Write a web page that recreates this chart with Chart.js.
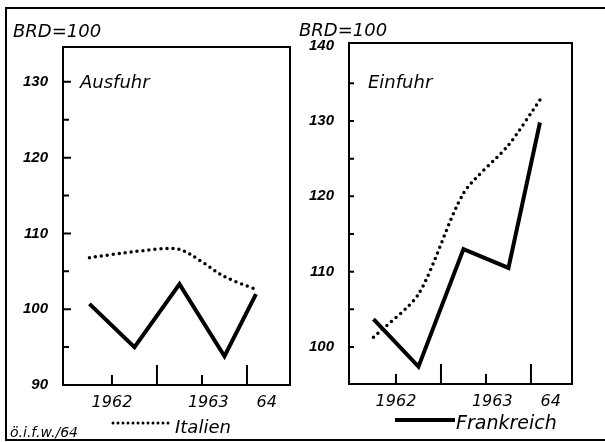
<!DOCTYPE html>
<html lang="de">
<head>
    <meta charset="UTF-8">
    <title>Ausfuhr / Einfuhr, BRD=100</title>
    <script src="https://cdn.jsdelivr.net/npm/chart.js@4"></script>
    <style>
        body {
            margin: 0;
            background: #fff;
        }
        #page {
            position: relative;
            width: 605px;
            height: 442px;
            overflow: hidden;
            background: #fff;
            color: #000;
            font-family: "DejaVu Sans", sans-serif;
            font-style: italic;
        }
        #page canvas {
            position: absolute;
            left: 0;
            top: 0;
        }
        .frame {
            position: absolute;
            left: 5px;
            top: 7px;
            width: 700px;
            height: 434px;
            box-sizing: border-box;
            border: 2px solid #000;
            border-right: none;
        }
        .txt {
            position: absolute;
            line-height: 1;
            white-space: nowrap;
        }
        .solid-key {
            position: absolute;
            left: 395px;
            top: 418px;
            width: 60px;
            height: 4px;
            background: #000;
        }
    </style>
</head>
<body>
<div id="page">
    <div class="frame"></div>
    <canvas id="ausfuhr" width="605" height="442"></canvas>
    <canvas id="einfuhr" width="605" height="442"></canvas>

    <span class="txt" style="left:13px; top:22px; font-size:18px;">BRD=100</span>
    <span class="txt" style="left:299px; top:21px; font-size:18px;">BRD=100</span>
    <span class="txt" style="left:80px; top:73px; font-size:18px;">Ausfuhr</span>
    <span class="txt" style="left:368px; top:73px; font-size:18px;">Einfuhr</span>

    <svg style="position:absolute; left:110px; top:419px;" width="66" height="8">
        <line x1="3" y1="4" x2="63" y2="4" stroke="#000" stroke-width="3"
              stroke-dasharray="0 5" stroke-linecap="round"/>
    </svg>
    <span class="txt" style="left:175px; top:418px; font-size:18px;">Italien</span>
    <div class="solid-key"></div>
    <span class="txt" style="left:456px; top:413px; font-size:19px;">Frankreich</span>
    <span class="txt" style="left:10px; top:425px; font-size:14px;">ö.i.f.w./64</span>
</div>

<script>
    // half-year midpoints 1962/63, then 1st quarter 1964
    const periods = [1962.25, 1962.75, 1963.25, 1963.75, 1964.1];

    const ausfuhrFrankreich = [100.7, 95.0, 103.3, 93.8, 102.0];
    const ausfuhrItalien = [106.8, 107.6, 107.9, 104.3, 102.6];
    const einfuhrFrankreich = [103.7, 97.4, 113.0, 110.5, 129.8];
    const einfuhrItalien = [101.3, 107.0, 120.4, 126.8, 132.8];

    const xLabels = ['1962', '1963', '64'];
    const xLabelPos = [1962.5, 1963.57, 1964.22];
    const xTickMarks = [1962.5, 1963, 1963.5, 1964];

    const ausfuhrYLabels = [90, 100, 110, 120, 130];
    const einfuhrYLabels = [100, 110, 120, 130, 140];
    const yTickMarks = [95, 100, 105, 110, 115, 120, 125, 130, 135];

    // box around the plot area plus the inward tick marks
    const frameTicks = {
        id: 'frameTicks',
        afterDraw(chart, args, opts) {
            const { ctx, chartArea: a, scales: { x, y } } = chart;
            ctx.save();
            ctx.strokeStyle = '#000';
            ctx.lineWidth = 2;
            ctx.strokeRect(a.left, a.top, a.right - a.left, a.bottom - a.top);
            ctx.beginPath();
            yTickMarks.forEach(v => {
                if (v <= y.min || v >= y.max - 1) return;
                const py = y.getPixelForValue(v);
                const len = v % 10 === 0 ? opts.majorLen : opts.minorLen;
                ctx.moveTo(a.left, py);
                ctx.lineTo(a.left + len, py);
            });
            xTickMarks.forEach(v => {
                const px = x.getPixelForValue(v);
                const len = Number.isInteger(v) ? 20 : 10;
                ctx.moveTo(px, a.bottom);
                ctx.lineTo(px, a.bottom - len);
            });
            ctx.stroke();
            ctx.restore();
        }
    };

    const toPoints = vals => periods.map((t, i) => ({ x: t, y: vals[i] }));

    const makeChart = (id, cfg) => new Chart(document.getElementById(id), {
        type: 'line',
        data: {
            datasets: [
                {
                    label: 'Frankreich',
                    data: toPoints(cfg.frankreich),
                    borderColor: '#000',
                    borderWidth: 4,
                    pointRadius: 0,
                    tension: 0
                },
                {
                    label: 'Italien',
                    data: toPoints(cfg.italien),
                    borderColor: '#000',
                    borderWidth: 3.5,
                    borderDash: [0, 6],
                    borderCapStyle: 'round',
                    pointRadius: 0,
                    tension: 0.25
                }
            ]
        },
        options: {
            responsive: false,
            animation: false,
            devicePixelRatio: 1,
            layout: { padding: cfg.padding },
            plugins: {
                legend: { display: false },
                tooltip: { enabled: false },
                frameTicks: { majorLen: cfg.majorLen, minorLen: cfg.minorLen }
            },
            scales: {
                x: {
                    type: 'linear',
                    min: cfg.xMin,
                    max: cfg.xMax,
                    grid: { display: false, drawTicks: false },
                    border: { display: false },
                    afterBuildTicks: s => { s.ticks = xLabelPos.map(v => ({ value: v })); },
                    afterFit: s => { s.height = 30; },
                    ticks: {
                        autoSkip: false,
                        maxRotation: 0,
                        padding: 8,
                        color: '#000',
                        font: { family: 'DejaVu Sans', size: 16, style: 'italic' },
                        callback: (v, i) => xLabels[i]
                    }
                },
                y: {
                    min: cfg.yMin,
                    max: cfg.yMax,
                    grid: { display: false, drawTicks: false },
                    border: { display: false },
                    afterBuildTicks: s => { s.ticks = cfg.yLabels.map(v => ({ value: v })); },
                    afterFit: s => { s.width = 50; },
                    ticks: {
                        padding: 15,
                        color: '#000',
                        font: { family: 'Liberation Sans', size: 15, style: 'italic', weight: 'bold' },
                        callback: v => v
                    }
                }
            }
        },
        plugins: [frameTicks]
    });

    makeChart('ausfuhr', {
        frankreich: ausfuhrFrankreich,
        italien: ausfuhrItalien,
        yLabels: ausfuhrYLabels,
        xMin: 1961.956, xMax: 1964.478,
        yMin: 90, yMax: 134.6,
        majorLen: 8, minorLen: 6,
        padding: { left: 13, top: 47, right: 315, bottom: 27 }
    });

    makeChart('einfuhr', {
        frankreich: einfuhrFrankreich,
        italien: einfuhrItalien,
        yLabels: einfuhrYLabels,
        xMin: 1961.978, xMax: 1964.456,
        yMin: 95.09, yMax: 140.35,
        majorLen: 5, minorLen: 5,
        padding: { left: 299, top: 43, right: 33, bottom: 28 }
    });
</script>
</body>
</html>
